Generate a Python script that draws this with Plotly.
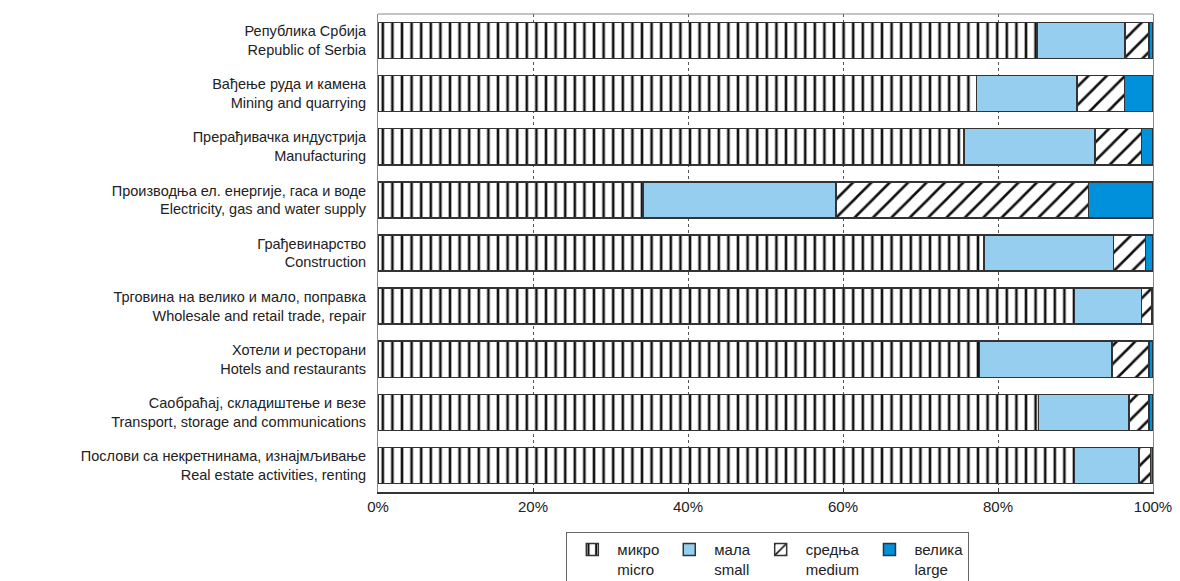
import plotly.graph_objects as go

categories = [
    "Република Србија<br>Republic of Serbia",
    "Вађење руда и камена<br>Mining and quarrying",
    "Прерађивачка индустрија<br>Manufacturing",
    "Производња ел. енергије, гаса и воде<br>Electricity, gas and water supply",
    "Грађевинарство<br>Construction",
    "Трговина на велико и мало, поправка<br>Wholesale and retail trade, repair",
    "Хотели и ресторани<br>Hotels and restaurants",
    "Саобраћај, складиштење и везе<br>Transport, storage and communications",
    "Послови са некретнинама, изнајмљивање<br>Real estate activities, renting",
]

micro = [85.0, 77.2, 75.6, 34.2, 78.2, 89.9, 77.6, 85.2, 89.9]
small = [11.4, 13.0, 16.9, 24.9, 16.7, 8.6, 17.1, 11.7, 8.3]
medium = [3.1, 6.1, 6.0, 32.6, 4.1, 1.3, 4.8, 2.6, 1.5]
large = [0.5, 3.7, 1.5, 8.3, 1.0, 0.2, 0.5, 0.5, 0.3]

series_names = ["микро<br>micro", "мала<br>small", "средња<br>medium", "велика<br>large"]
tick_vals = [0, 20, 40, 60, 80, 100]
tick_text = ["0%", "20%", "40%", "60%", "80%", "100%"]

line = dict(color="#333333", width=1.5)
fig = go.Figure()
fig.add_trace(go.Bar(
    y=categories, x=micro, orientation="h", name=series_names[0],
    marker=dict(color="white", line=line,
                pattern=dict(shape="|", fgcolor="#111111", bgcolor="white",
                             size=9.6, solidity=0.27, fillmode="replace")),
))
fig.add_trace(go.Bar(
    y=categories, x=small, orientation="h", name=series_names[1],
    marker=dict(color="#96CEF0", line=line),
))
fig.add_trace(go.Bar(
    y=categories, x=medium, orientation="h", name=series_names[2],
    marker=dict(color="white", line=line,
                pattern=dict(shape="/", fgcolor="#111111", bgcolor="white",
                             size=13, solidity=0.2, fillmode="replace")),
))
fig.add_trace(go.Bar(
    y=categories, x=large, orientation="h", name=series_names[3],
    marker=dict(color="#0091DA", line=line),
))

fig.update_layout(
    width=1172, height=573,
    barmode="stack", bargap=0.32,
    margin=dict(l=370, r=27, t=6, b=89, autoexpand=False),
    plot_bgcolor="white", paper_bgcolor="white",
    font=dict(family="Liberation Sans, Arial, sans-serif", size=14.5, color="#222222"),
    xaxis=dict(range=[0, 100], tickvals=tick_vals, ticktext=tick_text,
               showgrid=True, griddash="dot", gridcolor="#555555", gridwidth=1,
               showline=True, linecolor="#333333", linewidth=1.5,
               ticks="inside", ticklen=4, tickcolor="#333333",
               tickfont=dict(size=15), zeroline=False, automargin=False),
    yaxis=dict(autorange="reversed", showline=True, mirror=True, automargin=False,
               linecolor="#888888", linewidth=1, ticks="", ticklabelstandoff=8),
    legend=dict(orientation="h", x=0.503, xanchor="center", y=-0.084, yanchor="top",
                bordercolor="#666666", borderwidth=1, font=dict(size=15),
                traceorder="normal", itemwidth=40, valign="top",
                tracegroupgap=0, yref="paper"),
    shapes=[dict(type="line", xref="paper", yref="paper", x0=0, x1=1, y0=1, y1=1,
                 line=dict(color="#888888", width=1))],
)

fig.write_html("out.html")
